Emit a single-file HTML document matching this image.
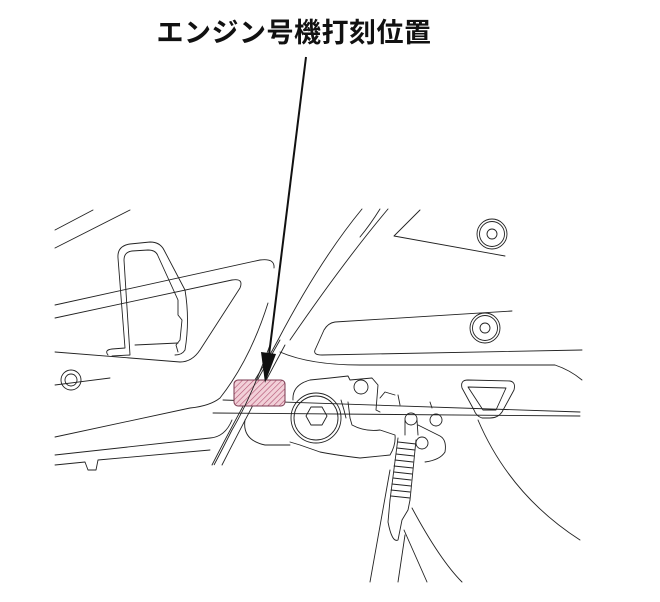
<!DOCTYPE html>
<html><head><meta charset="utf-8"><style>
body{margin:0;background:#fff;width:660px;height:602px;overflow:hidden}
svg{position:absolute;left:0;top:0}
.t{position:absolute;left:0;width:588px;top:11px;text-align:center;font:bold 27px "Liberation Sans","Noto Sans CJK JP",sans-serif;color:#111;letter-spacing:0.5px}
</style></head><body>
<div class="t">エンジン号機打刻位置</div>
<svg width="660" height="602" viewBox="0 0 660 602">
<defs>
<pattern id="h" width="4" height="4" patternUnits="userSpaceOnUse" patternTransform="rotate(45)">
<rect width="4" height="4" fill="#f2d0d8"/><line x1="0" y1="0" x2="0" y2="4" stroke="#b05070" stroke-width="1.2"/>
</pattern>
</defs>
<g fill="none" stroke="#222" stroke-width="0.9" stroke-linecap="round" stroke-linejoin="round">
<path d="M55 230 L93 210"/>
<path d="M55 248 L130 210"/>
<path d="M108 355 Q104 350 112 349 L125 348 L118 258 Q117 246 130 244 L150 242 Q160 242 164 250 L185 290 Q190 320 185 350 Q182 355 175 355"/>
<path d="M112 356 L130 355 L124 260 Q124 252 132 251 L148 250 Q156 250 158 256 L178 300 L178 315 L182 320 L180 340 L176 345 L178 352"/>
<path d="M135 345 L178 343"/>
<path d="M55 305 L260 260 Q275 258 274 268"/>
<path d="M268 303 Q250 360 220 398 Q210 406 190 408 L55 437"/>
<path d="M55 318 L232 280 Q244 278 240 288 L200 350 Q192 362 180 362 L55 352"/>
<path d="M55 455 L210 438 Q225 437 232 420"/>
<path d="M55 465 L85 462 L88 470 L96 470 L98 460 L210 450"/>
<circle cx="71" cy="380" r="10"/><circle cx="71" cy="380" r="6"/>
<path d="M55 385 L110 378"/>
<path d="M362 209 Q320 260 278 340 Q262 370 245 395"/>
<path d="M388 209 Q345 260 290 340"/>
<path d="M380 209 Q370 225 360 237"/>
<path d="M280 340 Q240 410 212 465"/>
<path d="M285 345 Q250 410 222 465"/>
<path d="M420 210 L394 236 L505 256"/>
<circle cx="492" cy="234" r="15"/><circle cx="492" cy="234" r="12.5"/><circle cx="492" cy="234" r="5"/>
<path d="M512 311 L335 322 Q328 323 324 330 L315 350 Q313 355 322 355 L582 350"/>
<circle cx="485" cy="328" r="15"/><circle cx="485" cy="328" r="12.5"/><circle cx="485" cy="328" r="5"/>
<path d="M280 352 Q310 365 360 365 L555 365 Q570 370 582 380"/>
<path d="M223 400 L580 412"/>
<path d="M213 413 L580 416"/>
<circle cx="316" cy="418" r="25"/><circle cx="316" cy="418" r="22"/>
<path d="M306 416 L311 407 L322 407 L327 416 L322 425 L311 425 Z"/>
<path d="M293 400 Q292 385 310 380 L330 378 L348 376 L350 380 L372 378 L378 385 L376 410 L380 412"/>
<circle cx="361" cy="387" r="7"/>
<path d="M341 400 L344 410 L346 418 M348 402 L350 418"/>
<path d="M350 418 L352 425 Q365 432 380 430 L395 435 Q396 445 390 455 L360 458 Q335 455 320 452 L300 445 L290 442"/>
<path d="M380 398 L385 392 L395 395 M398 395 L400 405 M430 402 L432 408"/>
<path d="M245 420 Q242 440 265 445 L290 445"/>
<circle cx="411" cy="419" r="6"/>
<path d="M405 420 L405 435 M417 420 L418 435"/>
<circle cx="436" cy="420" r="6"/>
<circle cx="422" cy="443" r="6"/>
<path d="M418 425 L428 430 L440 436 Q447 440 445 452 Q440 460 425 462"/>
<path d="M398 438 L390 500 M416 440 L410 500"/>
<path d="M398 442 L416 444 M397 448 L415 450 M396 454 L414 456 M395 460 L413 462 M394 466 L413 468 M394 472 L412 474 M393 478 L411 480 M392 484 L411 486 M391 490 L410 492 M391 496 L410 498"/>
<path d="M390 500 L388 522 Q392 543 398 540 L402 520 L408 510 L410 500"/>
<path d="M370 582 L390 470"/>
<path d="M398 582 L405 535"/>
<path d="M427 582 L404 530"/>
<path d="M462 582 Q440 560 412 508"/>
<path d="M468 380 L510 381 Q516 382 514 390 L502 412 Q498 418 490 418 L482 418 Q476 416 474 410 L462 388 Q460 380 468 380 Z"/>
<path d="M468 387 L506 388 L496 410 L483 410 Z"/>
<path d="M478 420 Q510 495 580 540"/>
</g>
<rect x="234" y="380" width="51" height="26" rx="4" fill="url(#h)" stroke="#7a3a50" stroke-width="1"/>
<path d="M270 345 Q250 400 232 430 Q222 450 214 465" fill="none" stroke="#222" stroke-width="0.9"/>
<path d="M306 57 L269 355" stroke="#111" stroke-width="2" fill="none"/>
<path d="M261 352 L276 354 L265 383 Z" fill="#111"/>
</svg>
</body></html>
